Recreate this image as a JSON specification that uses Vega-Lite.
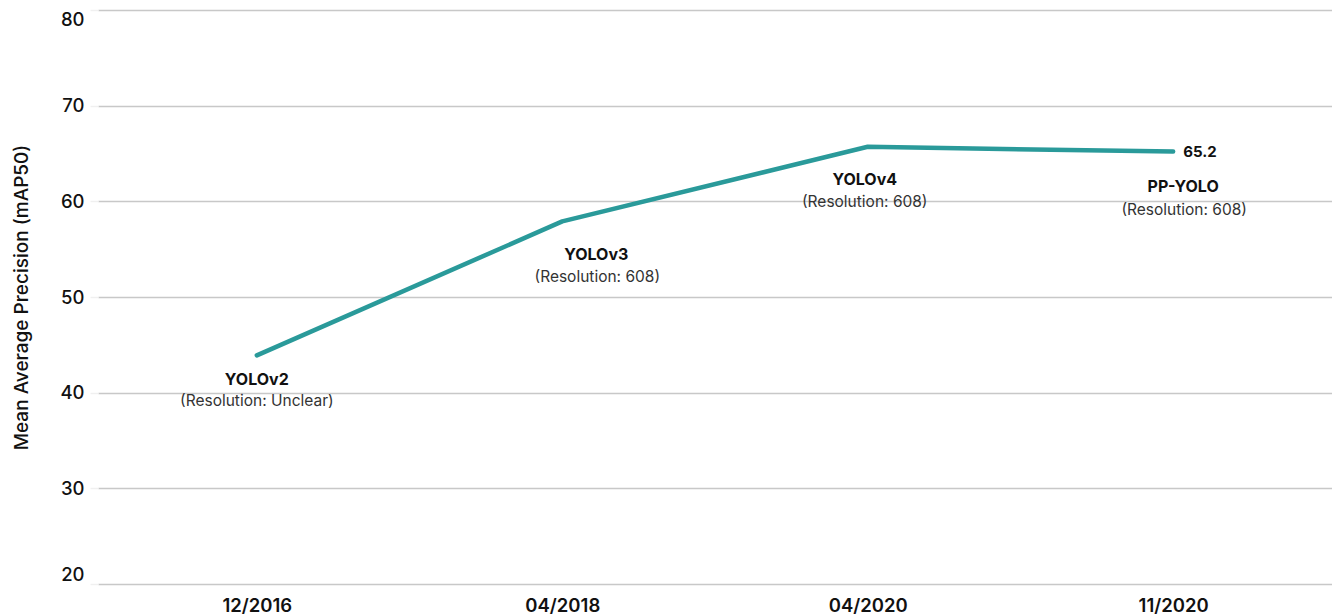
{
  "$schema": "https://vega.github.io/schema/vega-lite/v6.json",
  "autosize": "none",
  "padding": {"left": 98, "top": 10, "right": 0, "bottom": 32},
  "width": 1234,
  "height": 574,
  "background": "white",
  "config": {
    "font": "Inter",
    "view": {"stroke": null}
  },
  "data": {
    "values": [
      {"date": "12/2016", "model": "YOLOv2", "resolution": "(Resolution: Unclear)", "map50": 43.9},
      {"date": "04/2018", "model": "YOLOv3", "resolution": "(Resolution: 608)", "map50": 57.9},
      {"date": "04/2020", "model": "YOLOv4", "resolution": "(Resolution: 608)", "map50": 65.7},
      {"date": "11/2020", "model": "PP-YOLO", "resolution": "(Resolution: 608)", "map50": 65.2}
    ]
  },
  "encoding": {
    "x": {
      "field": "date", "type": "ordinal", "sort": null,
      "scale": {"type": "point", "padding": 0.52},
      "axis": {
        "title": null, "domain": false, "ticks": false, "grid": false,
        "labelAngle": 0, "labelFontSize": 18.5, "labelFontWeight": 600,
        "labelColor": "#111", "labelPadding": 12
      }
    },
    "y": {
      "field": "map50", "type": "quantitative",
      "scale": {"domain": [20, 80], "nice": false, "zero": false},
      "axis": {
        "title": "Mean Average Precision (mAP50)", "titleFontSize": 19,
        "titleFontWeight": 500, "titleColor": "#111", "titlePadding": 28,
        "values": [20, 30, 40, 50, 60, 70, 80],
        "domain": false, "ticks": true, "tickColor": "#f0f0f0", "tickSize": 8, "tickWidth": 1.5,
        "grid": true, "gridColor": "#c8c8c8", "gridWidth": 1.5,
        "labelFontSize": 18.5, "labelFontWeight": 500, "labelColor": "#111",
        "labelPadding": 6, "labelFlush": true
      }
    }
  },
  "layer": [
    {
      "mark": {"type": "line", "color": "#2a9a9a", "strokeWidth": 4.5, "strokeCap": "round", "strokeJoin": "round"}
    },
    {
      "transform": [{"filter": "datum.model === 'PP-YOLO'"}],
      "mark": {"type": "text", "align": "left", "baseline": "middle", "dx": 10, "fontSize": 15, "fontWeight": 700, "color": "#111"},
      "encoding": {"text": {"field": "map50", "type": "quantitative", "format": ".1f"}}
    },
    {
      "transform": [{"filter": "datum.model === 'YOLOv2'"}],
      "mark": {"type": "text", "align": "center", "baseline": "middle", "dx": 0, "dy": 25, "fontSize": 16, "fontWeight": 700, "color": "#111"},
      "encoding": {"text": {"field": "model"}}
    },
    {
      "transform": [{"filter": "datum.model === 'YOLOv2'"}],
      "mark": {"type": "text", "align": "center", "baseline": "middle", "dx": 0, "dy": 46, "fontSize": 15.5, "fontWeight": 400, "color": "#333"},
      "encoding": {"text": {"field": "resolution"}}
    },
    {
      "transform": [{"filter": "datum.model === 'YOLOv3'"}],
      "mark": {"type": "text", "align": "center", "baseline": "middle", "dx": 34, "dy": 34, "fontSize": 16, "fontWeight": 700, "color": "#111"},
      "encoding": {"text": {"field": "model"}}
    },
    {
      "transform": [{"filter": "datum.model === 'YOLOv3'"}],
      "mark": {"type": "text", "align": "center", "baseline": "middle", "dx": 35, "dy": 56, "fontSize": 15.5, "fontWeight": 400, "color": "#333"},
      "encoding": {"text": {"field": "resolution"}}
    },
    {
      "transform": [{"filter": "datum.model === 'YOLOv4'"}],
      "mark": {"type": "text", "align": "center", "baseline": "middle", "dx": -3, "dy": 33, "fontSize": 16, "fontWeight": 700, "color": "#111"},
      "encoding": {"text": {"field": "model"}}
    },
    {
      "transform": [{"filter": "datum.model === 'YOLOv4'"}],
      "mark": {"type": "text", "align": "center", "baseline": "middle", "dx": -3, "dy": 55, "fontSize": 15.5, "fontWeight": 400, "color": "#333"},
      "encoding": {"text": {"field": "resolution"}}
    },
    {
      "transform": [{"filter": "datum.model === 'PP-YOLO'"}],
      "mark": {"type": "text", "align": "center", "baseline": "middle", "dx": 10, "dy": 35, "fontSize": 16, "fontWeight": 700, "color": "#111"},
      "encoding": {"text": {"field": "model"}}
    },
    {
      "transform": [{"filter": "datum.model === 'PP-YOLO'"}],
      "mark": {"type": "text", "align": "center", "baseline": "middle", "dx": 11, "dy": 58, "fontSize": 15.5, "fontWeight": 400, "color": "#333"},
      "encoding": {"text": {"field": "resolution"}}
    }
  ]
}
